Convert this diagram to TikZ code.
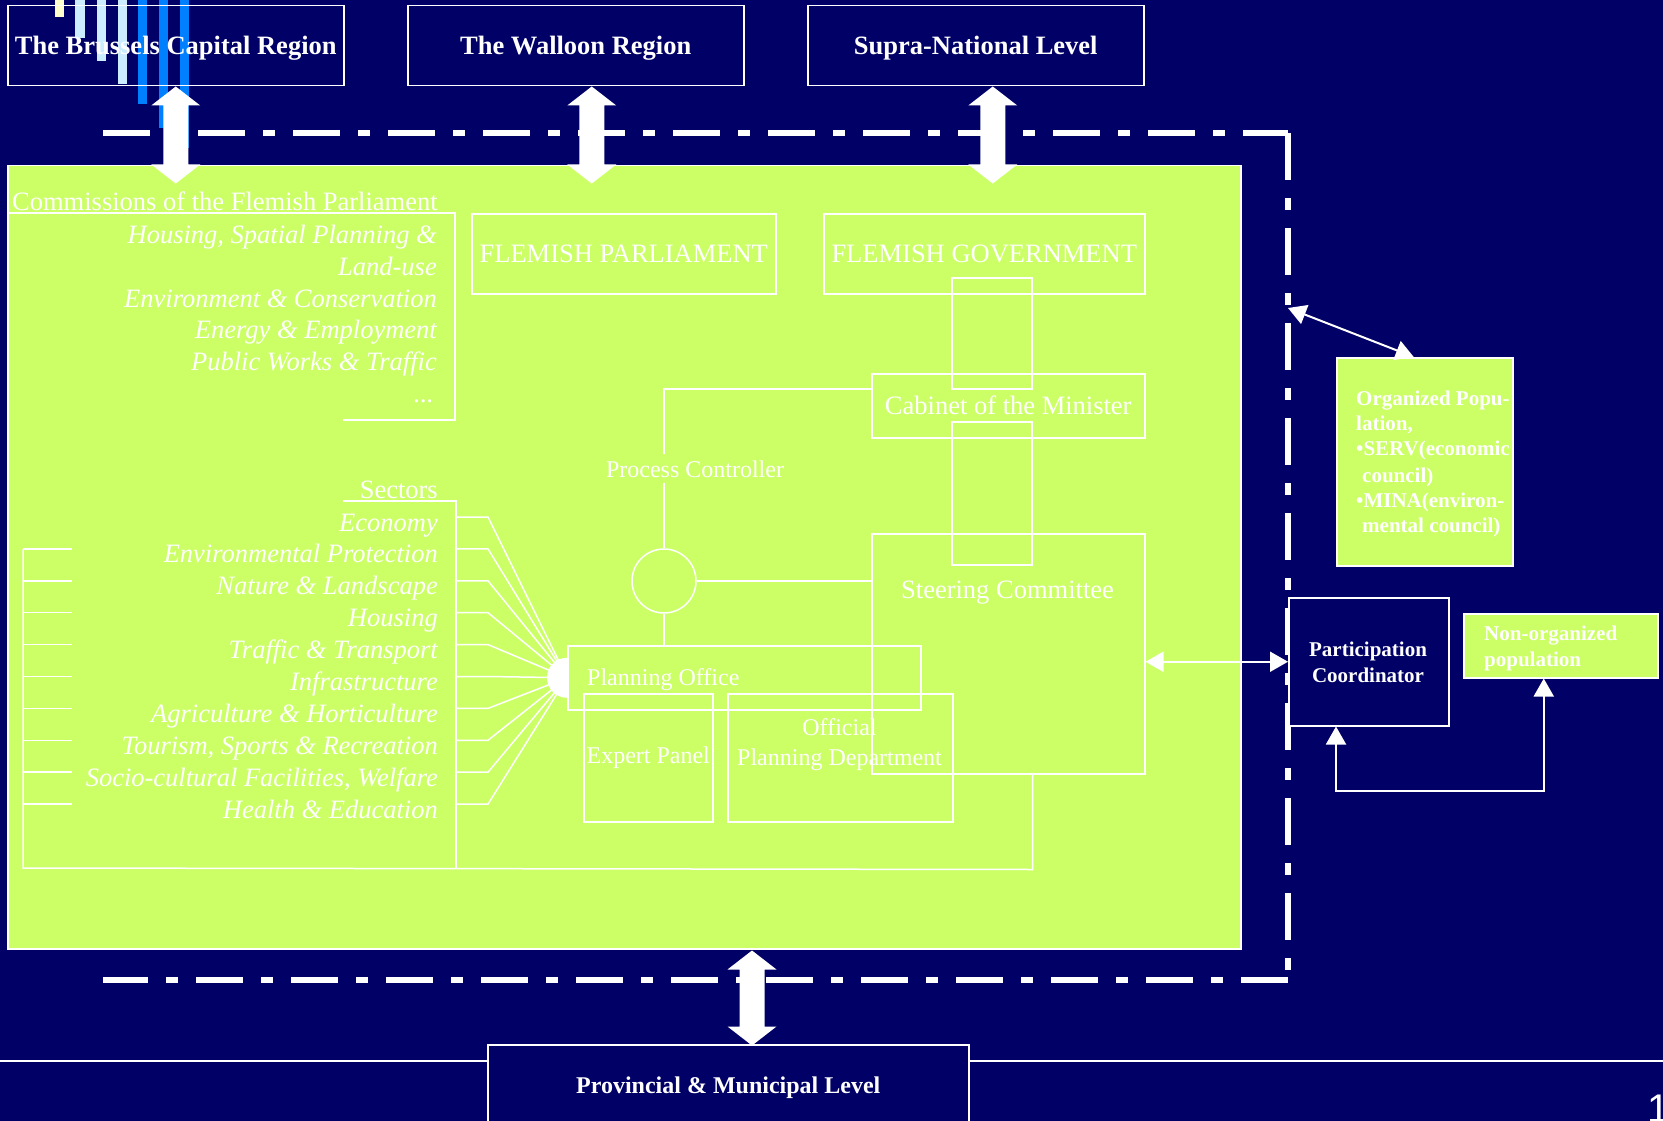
\documentclass[tikz,border=0pt]{standalone}
\usepackage{fontspec}
\setmainfont{Liberation Serif}
\newfontfamily\arialfont{Liberation Sans}
\usetikzlibrary{arrows.meta,calc}
\definecolor{bgnavy}{RGB}{0,0,102}
\definecolor{lime}{RGB}{204,255,102}
\definecolor{paleyel}{RGB}{255,255,204}
\definecolor{lightblu}{RGB}{204,236,255}
\definecolor{midblu}{RGB}{0,128,255}
\newcommand{\szA}{\fontsize{26.5}{31.8}\selectfont}
\newcommand{\szB}{\fontsize{24}{28.8}\selectfont}
\newcommand{\szC}{\fontsize{21}{25.2}\selectfont}
\newcommand{\blockarr}[2]{\fill[white] #1 -- ++(24.5,19) -- ++(-12,0) -- ++(0,#2) -- ++(12,0) -- ++(-24.5,19) -- ++(-24.5,-19) -- ++(12,0) -- ++(0,-#2) -- ++(-12,0) -- cycle;}
\begin{document}
\begin{tikzpicture}[x=1pt,y=-1pt,
  wbox/.style={draw=white, line width=1.5pt, inner sep=0pt, anchor=north west, text=white},
  topbox/.style={wbox, minimum width=336pt, minimum height=80pt, font=\bfseries\szA, text height=18pt, text depth=0pt},
  txt/.style={text=white, inner sep=0pt},
  wl/.style={draw=white, line width=1.5pt},
  arr/.style={draw=white, line width=2pt, {Triangle[length=18pt,width=20pt]}-{Triangle[length=18pt,width=20pt]}},
  framedash/.style={draw=white, line width=6pt, dash pattern=on 47pt off 18pt on 12pt off 18pt}]
\useasboundingbox (0,0) rectangle (1663,1121);
\fill[bgnavy] (0,0) rectangle (1663,1121);

% decorative bars
\fill[paleyel] (55,0) rectangle (64,17);
\fill[lightblu] (75,0) rectangle (85,38);
\fill[lightblu] (97,0) rectangle (106,61);
\fill[lightblu] (118,0) rectangle (127,84);
\fill[midblu] (138,0) rectangle (147,104);
\fill[midblu] (159,0) rectangle (168,128);
\fill[midblu] (180,0) rectangle (189,148);

% top level boxes
\node[topbox] (bru) at (7,5) {The Brussels Capital Region};
\node[topbox] (wal) at (407,5) {The Walloon Region};
\node[topbox] (sup) at (807,5) {Supra-National Level};

% bottom band
\draw[white, line width=1.5pt] (0,1061) -- (1663,1061);
\node[wbox, fill=bgnavy, minimum width=481pt, minimum height=100pt] (prov) at (487,1044) {};
\node[txt, font=\bfseries\szB] (provt) at ($(prov.north)+(0,44)$) {Provincial \& Municipal Level};
\node[txt, font=\arialfont\fontsize{40}{48}\selectfont, anchor=base west] (pg) at (1647,1122) {1};

% dash-dot frame
\coordinate (ftl) at (103,133);
\coordinate (ftr) at (1288,133);
\coordinate (fbr) at (1288,980);
\coordinate (fbl) at (103,980);
\coordinate (fr) at (1288,308);
\draw[framedash] (ftl) -- (ftr);
\draw[framedash] (ftr) -- (fbr);
\draw[framedash] (fbr) -- (fbl);

% main green area
\node[wbox, fill=lime, minimum width=1233pt, minimum height=783pt] (main) at (7,165) {};

% block arrows
\blockarr{(bru.south)}{59}
\blockarr{($(wal.south)+(16,0)$)}{59}
\blockarr{($(sup.south)+(17,0)$)}{59}
\blockarr{($(main.south west)+(745,1)$)}{57}

% commissions
\node[txt, font=\szA, anchor=base west] (comt) at (12,211) {Commissions of the Flemish Parliament};
\draw[wl] (7,213) -- (455,213) -- (455,420) -- (343,420);
\node[txt, font=\itshape\szA, anchor=base east] (c1) at (437,243) {Housing, Spatial Planning \&};
\node[txt, font=\itshape\szA, anchor=base east] (c2) at (437,275) {Land-use};
\node[txt, font=\itshape\szA, anchor=base east] (c3) at (437,307) {Environment \& Conservation};
\node[txt, font=\itshape\szA, anchor=base east] (c4) at (437,338) {Energy \& Employment};
\node[txt, font=\itshape\szA, anchor=base east] (c5) at (437,370) {Public Works \& Traffic};
\node[txt, font=\itshape\szA, anchor=base east] (c6) at (434,402) {...};

% upper right boxes
\node[wbox, minimum width=304pt, minimum height=80pt, font=\szA] (fp) at (471,213) {FLEMISH PARLIAMENT};
\node[wbox, minimum width=321pt, minimum height=80pt, font=\szA] (fg) at (823,213) {FLEMISH GOVERNMENT};
\node[wbox, minimum width=80pt, minimum height=111pt] (r1) at (951,277) {};
\node[wbox, minimum width=273pt, minimum height=64pt, font=\szA] (cab) at (871,373) {Cabinet of the Minister};
\node[wbox, minimum width=80pt, minimum height=143pt] (r2) at (951,421) {};
\node[wbox, minimum width=273pt, minimum height=240pt] (steer) at (871,533) {};
\node[txt, font=\szA, anchor=base] (steert) at (1007.5,598) {Steering Committee};

% process controller and planning office
\node[txt, font=\szB, anchor=base, inner sep=6pt] (pcl) at (695,477) {Process Controller};
\node[draw=white, line width=1.5pt, circle, minimum size=64pt, inner sep=0pt] (hub) at (664,581) {};
\node[wbox, minimum width=353pt, minimum height=64pt] (po) at (567,645) {};
\node[txt, font=\szB, anchor=base west] (pot) at (587,685) {Planning Office};
\node[wbox, minimum width=129pt, minimum height=128pt, font=\szB] (ep) at (583,693) {Expert Panel};
\node[wbox, minimum width=225pt, minimum height=128pt] (opd) at (727,693) {};
\node[txt, font=\szB, anchor=base] (opd1) at (839.5,735) {Official};
\node[txt, font=\szB, anchor=base] (opd2) at (839.5,765) {Planning Department};

\draw[wl] ($(cab.north west)+(0,16)$) -| (pcl.north -| hub.north);
\draw[wl] (hub.north) -- (hub.north |- pcl.south);
\draw[wl] (hub.east) -- (hub.east -| steer.west);
\draw[wl] (hub.south) -- (hub.south |- po.north);

% sectors
\node[txt, font=\szA, anchor=base east] (sect) at (438,498) {Sectors};
\draw[wl] (343,501) -- (456,501) -- (456,868);
\foreach \t [count=\i from 0] in {Economy, Environmental Protection, Nature \& Landscape, Housing, Traffic \& Transport, Infrastructure, Agriculture \& Horticulture, {Tourism, Sports \& Recreation}, {Socio-cultural Facilities, Welfare}, Health \& Education}
  {\node[txt, font=\itshape\szA, anchor=base east] (sec\i) at (438,{531+31.9*\i}) {\t};}
\foreach \i in {0,...,9}
  {\draw[wl] (456,{517+31.9*\i}) -- (488,{517+31.9*\i}) -- (po.west);}
\foreach \i in {1,...,9}
  {\draw[wl] (23,{517+31.9*\i}) -- (72,{517+31.9*\i});}
\draw[wl] (steer.south -| r2.east) -- ++(0,95) -- (23,868) -- (23,549);
\fill[white] (po.west) ++(0,20) arc[start angle=90, end angle=270, radius=20] -- cycle;

% right side participation
\node[wbox, fill=lime, minimum width=176pt, minimum height=208pt] (org) at (1336,357) {};
\begin{scope}
\clip (org.north west) rectangle (org.south east);
\node[txt, font=\bfseries\szC, anchor=base west] (o1) at (1356,405) {Organized Popu-};
\node[txt, font=\bfseries\szC, anchor=base west] (o2) at (1356,430) {lation,};
\node[txt, font=\bfseries\szC, anchor=base west] (o3) at (1356,455) {•SERV(economic};
\node[txt, font=\bfseries\szC, anchor=base west] (o4) at (1362,482) {council)};
\node[txt, font=\bfseries\szC, anchor=base west] (o5) at (1356,507) {•MINA(environ-};
\node[txt, font=\bfseries\szC, anchor=base west] (o6) at (1362,532) {mental council)};
\end{scope}
\node[wbox, fill=bgnavy, minimum width=160pt, minimum height=128pt] (pc) at (1288,597) {};
\node[txt, font=\bfseries\szC, anchor=base] (pc1) at (1368,656) {Participation};
\node[txt, font=\bfseries\szC, anchor=base] (pc2) at (1368,682) {Coordinator};
\node[wbox, fill=lime, minimum width=194pt, minimum height=64pt] (nop) at (1463,613) {};
\node[txt, font=\bfseries\szC, anchor=base west] (n1) at (1484,640) {Non-organized};
\node[txt, font=\bfseries\szC, anchor=base west] (n2) at (1484,666) {population};

\draw[arr] (pc.west -| steer.east) -- (pc.west);
\draw[arr] ($(org.north)+(-11,0)$) -- (fr);
\coordinate (pcb) at ($(pc.south west)+(48,0)$);
\coordinate (nopb) at ($(nop.south)+(-17,0)$);
\draw[arr] (pcb) -- ++(0,64) -| (nopb);
\end{tikzpicture}
\end{document}
